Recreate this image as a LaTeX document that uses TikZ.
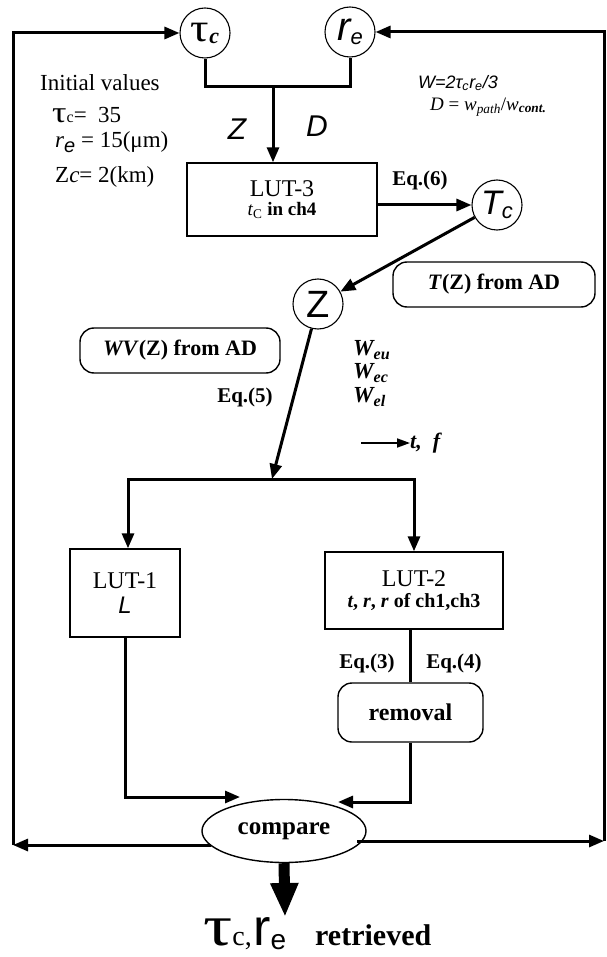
\documentclass[tikz,border=0pt]{standalone}
\usepackage{fontspec}
\setmainfont{Liberation Serif}
\setsansfont{Liberation Sans}
\usepackage{graphicx}
\usetikzlibrary{arrows.meta,shapes.geometric,calc}
\newcommand\myfs[1]{\fontsize{#1}{#1}\selectfont}
\begin{document}
\begin{tikzpicture}[x=1pt,y=-1pt,
 conn/.style={line width=3pt},
 arr/.style={line width=3pt,-{Triangle[length=15pt,width=12pt]}},
 circ/.style={draw,circle,line width=1.1pt,minimum size=50pt,inner sep=0pt},
 boxn/.style={draw,rectangle,line width=1.4pt,inner sep=0pt,align=center},
 rbox/.style={draw,rounded corners=14pt,line width=1.4pt,inner sep=0pt,align=center},
 txt/.style={inner sep=0pt,align=left},
 eq/.style={inner sep=0pt,font=\bfseries\myfs{21}},
]
\useasboundingbox (0,0) rectangle (606,957);

% circles
\node[circ] (tauc) at (205,33) {\myfs{40}\scalebox{1.15}[1]{τ}\raisebox{-2pt}{\myfs{22}\textbf{\textit{c}}}};
\node[circ] (re) at (350,32) {\sffamily\itshape\myfs{40}r\raisebox{-4pt}{\myfs{22}e}};
\node[circ] (Tc) at (497,205) {\sffamily\itshape\myfs{34}T\raisebox{-4pt}{\myfs{22}c}};
\node[circ] (Z) at (318,304) {\sffamily\myfs{38}Z};

% boxes
\node[boxn,minimum width=190pt,minimum height=73pt] (lut3) at (282,199.5)
  {\myfs{24}LUT-3\\[4pt]\myfs{19}\textit{t}\textsubscript{C} \textbf{in ch4}};
\node[rbox,minimum width=202pt,minimum height=45pt] (tz) at (494,284.5)
  {\bfseries\myfs{22}\textit{T}(Z) from AD};
\node[rbox,minimum width=200pt,minimum height=45pt] (wv) at (180,350.5)
  {\bfseries\myfs{22}\textit{WV}(Z) from AD};
\node[boxn,minimum width=110pt,minimum height=88pt] (lut1) at (125,593)
  {\myfs{24}LUT-1\\[8pt]\sffamily\itshape\myfs{24}L};
\node[boxn,minimum width=178pt,minimum height=77pt] (lut2) at (414,590.5)
  {\myfs{24}LUT-2\\[6pt]\bfseries\myfs{20}\textit{t}, \textit{r}, \textit{r} of ch1,ch3};
\node[rbox,minimum width=145pt,minimum height=59pt] (rem) at (410.5,712.5)
  {\bfseries\myfs{24}removal};
\node[draw,ellipse,line width=1.4pt,minimum width=164pt,minimum height=63pt,inner sep=0pt] (cmp) at (284,831)
  {\bfseries\myfs{25}compare};

% coordinates
\coordinate (TL) at (13,33);
\coordinate (BL) at (13,845);
\coordinate (TR) at (604,32);
\coordinate (BR) at (604,841);
\coordinate (jl) at (273,87);
\coordinate (sp) at (272,479);
\coordinate (c1) at (240,797);
\coordinate (c2) at (338,802);
\coordinate (cL) at (211,845);
\coordinate (cR) at (357,841);
\coordinate (dn) at (285,917);

% top part
\draw[conn] (tauc.south) |- (jl) -| (re.south);
\draw[arr] (jl) -- (jl |- lut3.north);
\draw[arr] (lut3.east |- Tc) -- (Tc);
\draw[arr] (Tc) -- (Z);
\draw[arr] (Z) -- (sp);
\draw[arr] (sp) -| ([xshift=3pt]lut1.north);
\draw[arr] (sp) -| (lut2.north);
\draw[conn] (lut2.south -| rem.north) -- (rem.north);
\draw[arr] (rem.south) |- (c2);
\draw[arr] (lut1.south) |- (c1);

% feedback loops
\draw[arr] (cL) -- (BL);
\draw[arr] (BL) -- (TL) -- (tauc);
\draw[arr] (cR) -- (BR);
\draw[arr] (BR) -- (TR) -- (re);
\draw[line width=11pt,-{Triangle[length=34pt,width=26pt]}] (cmp.south) -- (dn);

% labels
\node[txt,anchor=west,font=\myfs{23}] (iv) at (40,83) {Initial values};
\node[txt,anchor=west,font=\myfs{23}] (iv1) at (52,115) {{\myfs{30}\scalebox{1.2}[1]{τ}}{\myfs{16}c}=\ \ 35};
\node[txt,anchor=west,font=\myfs{23}] (iv2) at (55,142) {\textit{r}\raisebox{-5pt}{\sffamily\itshape\myfs{20}e} = 15(μm)};
\node[txt,anchor=west,font=\myfs{23}] (iv3) at (55,177) {Z\textit{c}= 2(km)};

\node[txt,font=\sffamily\itshape\myfs{30}] (zl) at (237,129) {Z};
\node[txt,font=\sffamily\itshape\myfs{30}] (dl) at (317,126) {D};

\node[txt,anchor=west,font=\sffamily\itshape\myfs{18}] (wf) at (418,83) {W=2τ\textsubscript{c}r\textsubscript{e}/3};
\node[txt,anchor=west,font=\myfs{19}] (df) at (430,107) {\textit{D} = \textit{w}\textsubscript{\textit{path}}/\textit{w}\textsubscript{\textbf{\textit{cont.}}}};

\node[eq] (e6) at (420,180) {Eq.(6)};
\node[eq] (e5) at (245,397) {Eq.(5)};
\node[eq] (e3) at (367,663) {Eq.(3)};
\node[eq] (e4) at (454,663) {Eq.(4)};

\node[txt,anchor=west,font=\bfseries\itshape\myfs{23}] (weu) at (353,350) {W\textsubscript{eu}};
\node[txt,anchor=west,font=\bfseries\itshape\myfs{23}] (wec) at (353,373) {W\textsubscript{ec}};
\node[txt,anchor=west,font=\bfseries\itshape\myfs{23}] (wel) at (353,397) {W\textsubscript{el}};

\node[txt,anchor=west,font=\bfseries\itshape\myfs{22}] (tf) at (410,443) {t,\ \ f};
\coordinate (tfa) at (361,443);
\draw[line width=1.8pt,-{Triangle[length=13pt,width=9pt]}] (tfa) -- (tf.west);

\node[txt,anchor=base west] (res1) at (203,945) {{\myfs{58}\scalebox{1.25}[1]{τ}}{\myfs{28}c,}\,{\sffamily\myfs{52}r}\raisebox{-4pt}{\sffamily\myfs{28}e}};
\node[txt,anchor=base west,font=\bfseries\myfs{30}] (res2) at (315,945) {retrieved};
\end{tikzpicture}
\end{document}
